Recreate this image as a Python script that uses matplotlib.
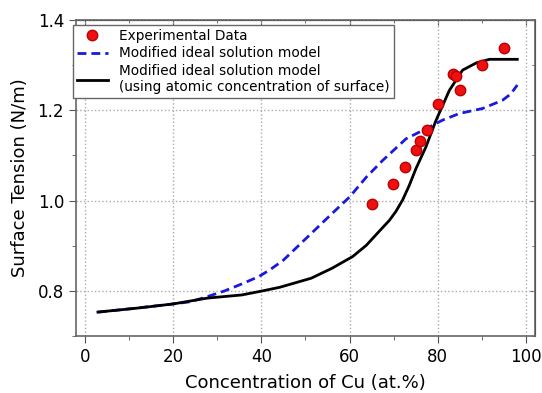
import matplotlib
matplotlib.use('Agg')
import matplotlib.pyplot as plt
from matplotlib.ticker import MultipleLocator

# Experimental data (Cu at.%, surface tension N/m)
exp_x = [65.0, 69.9, 72.5, 75.0, 75.9, 77.6, 80.0, 83.4, 84.1, 85.0, 90.0, 95.0]
exp_y = [0.993, 1.037, 1.075, 1.112, 1.133, 1.157, 1.214, 1.280, 1.276, 1.246, 1.301, 1.338]

# Modified ideal solution model
ideal_x = [3.0, 10.0, 20.0, 24.0, 28.0, 31.7, 35.5, 39.5, 42.0, 45.0, 51.3, 56.0, 60.0, 63.8,
           67.5, 72.8, 77.3, 81.0, 84.9, 90.1, 94.6, 96.5, 98.0]
ideal_y = [0.753, 0.760, 0.771, 0.776, 0.788, 0.800, 0.815, 0.832, 0.847, 0.868, 0.927, 0.971,
           1.008, 1.052, 1.089, 1.137, 1.159, 1.178, 1.193, 1.204, 1.222, 1.236, 1.256]

# Modified ideal solution model (using atomic concentration of surface)
surf_x = [3.0, 12.1, 20.0, 27.8, 35.6, 40.3, 44.2, 51.3, 56.0, 60.7, 63.8, 67.0, 69.0,
          70.5, 72.0, 73.5, 75.0, 77.3, 79.6, 82.6, 85.6, 88.7, 91.7, 98.0]
surf_y = [0.753, 0.762, 0.771, 0.784, 0.791, 0.800, 0.808, 0.828, 0.850, 0.876, 0.901,
          0.935, 0.956, 0.976, 1.001, 1.033, 1.070, 1.119, 1.178, 1.244, 1.289, 1.305, 1.313, 1.313]

plt.rcParams['font.family'] = ['DejaVu Sans']

fig = plt.figure(figsize=(5.42, 3.93), dpi=100)
ax = fig.add_axes([0.140, 0.145, 0.847, 0.804])

ax.plot(exp_x, exp_y, 'o', color='#ee1111', markeredgecolor='#bb0000',
        markersize=7.5, label='Experimental Data', zorder=4)
ax.plot(ideal_x, ideal_y, '--', color='#1a1adf', lw=2, dashes=(3.2, 1.8),
        label='Modified ideal solution model', zorder=3)
ax.plot(surf_x, surf_y, '-', color='black', lw=2,
        label='Modified ideal solution model\n(using atomic concentration of surface)', zorder=3)

ax.set_xlim(-2, 102)
ax.set_ylim(0.7, 1.4)
ax.xaxis.set_major_locator(MultipleLocator(20))
ax.xaxis.set_minor_locator(MultipleLocator(10))
ax.yaxis.set_major_locator(MultipleLocator(0.2))
ax.yaxis.set_minor_locator(MultipleLocator(0.1))
ax.set_yticks([0.8, 1.0, 1.2, 1.4])

ax.tick_params(which='both', direction='out', labelsize=12, color='#555555')
ax.tick_params(which='major', length=5)
ax.tick_params(which='minor', length=3)
ax.grid(True, which='major', linestyle=':', color='#aaaaaa', lw=1)

# mirrored ticks on top and right pointing inward
secx = ax.secondary_xaxis('top')
secx.xaxis.set_major_locator(MultipleLocator(20))
secx.xaxis.set_minor_locator(MultipleLocator(10))
secx.tick_params(which='both', direction='in', labeltop=False, color='#555555')
secy = ax.secondary_yaxis('right')
secy.yaxis.set_major_locator(MultipleLocator(0.2))
secy.yaxis.set_minor_locator(MultipleLocator(0.1))
secy.tick_params(which='both', direction='in', labelright=False, color='#555555')

for s in list(ax.spines.values()):
    s.set_color('#666666')
    s.set_linewidth(1.2)

ax.set_xlabel('Concentration of Cu (at.%)', fontsize=13, labelpad=6)
ax.set_ylabel('Surface Tension (N/m)', fontsize=13, labelpad=6)

leg = ax.legend(loc='upper left', bbox_to_anchor=(-0.007, 0.985), borderaxespad=0,
                fontsize=9.8, frameon=True, fancybox=False, framealpha=1,
                edgecolor='#666666', handlelength=2.3, handletextpad=0.8,
                labelspacing=0.25, borderpad=0.3)
leg.get_frame().set_linewidth(1.0)

fig.savefig('out.png', dpi=100)
